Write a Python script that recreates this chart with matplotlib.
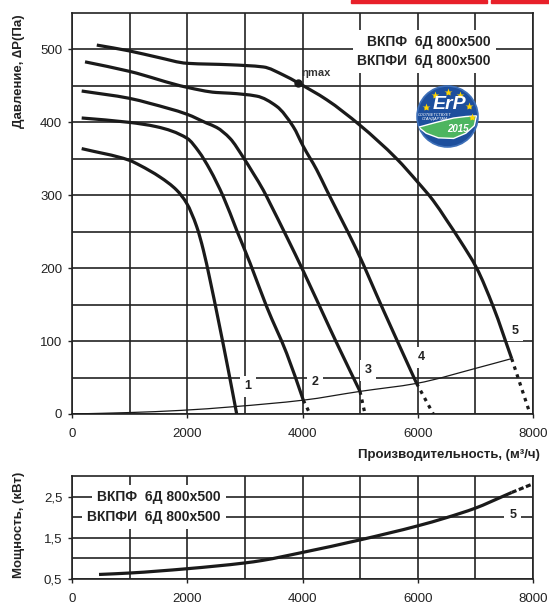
import numpy as np
import matplotlib.pyplot as plt
from matplotlib.patches import Circle, Polygon, Rectangle, PathPatch
from matplotlib.path import Path

plt.rcParams['font.family'] = ['Liberation Sans', 'DejaVu Sans']

# pressure curves (m3/h, Pa) - solid part + dotted tail
q1 = [168, 995, 1180, 1527, 1817, 1990, 2164, 2279, 2395, 2539, 2713, 2858]
p1 = [364, 348, 341, 325, 307, 289, 257, 225, 184, 129, 60, 0]

q2 = [168, 995, 1470, 2000, 2200, 2395, 2626, 2858, 3090, 3379, 3726, 4014]
p2 = [406, 400, 394, 378, 360, 335, 298, 252, 207, 147, 83, 19]
q2_tail = [4014, 4130]
p2_tail = [19, 0]

q3 = [168, 995, 1354, 2000, 2337, 2511, 2742, 2972, 3146, 3320, 3436, 3726, 4014, 4477, 4650, 4998]
p3 = [443, 433, 426, 411, 399, 393, 378, 352, 330, 307, 289, 243, 196, 117, 88, 31]
q3_tail = [4998, 5085]
p3_tail = [31, 0]

q4 = [226, 995, 2000, 2500, 2742, 3205, 3552, 3840, 4014, 4246, 4420, 4650, 4940, 5400, 5980]
p4 = [483, 470, 448, 441, 440, 436, 422, 394, 367, 335, 307, 271, 225, 143, 42]
q4_tail = [5980, 6270]
p4_tail = [42, 0]

q5 = [430, 995, 1500, 2000, 2742, 3320, 3667, 3927, 4420, 4998, 5635, 6000, 6266, 6500, 6733, 7023, 7311, 7630]
p5 = [506, 498, 489, 481, 479, 476, 465, 454, 431, 396, 350, 318, 293, 266, 238, 200, 147, 76]
q5_tail = [7630, 7950]
p5_tail = [76, 0]

eta_q, eta_p = 3927, 454

# system line
qs = [0, 1000, 1900, 2800, 4014, 4998, 5981, 7023, 7630]
ps = [0, 2, 5, 10, 19, 31, 42, 63, 76]

# power curve (kW)
qn = [469, 1000, 2000, 3000, 3300, 4000, 5000, 6000, 6500, 7000, 7500, 7630]
nn = [0.61, 0.645, 0.75, 0.89, 0.95, 1.145, 1.45, 1.79, 1.99, 2.22, 2.52, 2.6]
qn_tail = [7630, 8000]
nn_tail = [2.6, 2.81]

curve_labels = ['1', '2', '3', '4', '5']
label_q = [3049, 4217, 5142, 6057, 7688]
label_p = [38, 44, 60, 78, 114]

model = 'ВКПФ  6Д 800x500\nВКПФИ  6Д 800x500'


def smooth_path(x, y):
    # monotone cubic (fritsch-carlson) through the read points, drawn as bezier segments
    x = np.asarray(x, float)
    y = np.asarray(y, float)
    h = np.diff(x)
    d = np.diff(y) / h
    m = np.zeros_like(x)
    m[0], m[-1] = d[0], d[-1]
    for i in range(1, len(x) - 1):
        if d[i - 1] * d[i] <= 0:
            m[i] = 0
        else:
            w1 = 2 * h[i] + h[i - 1]
            w2 = h[i] + 2 * h[i - 1]
            m[i] = (w1 + w2) / (w1 / d[i - 1] + w2 / d[i])
    verts = [(x[0], y[0])]
    codes = [Path.MOVETO]
    for i in range(len(x) - 1):
        verts += [(x[i] + h[i] / 3, y[i] + m[i] * h[i] / 3),
                  (x[i + 1] - h[i] / 3, y[i + 1] - m[i + 1] * h[i] / 3),
                  (x[i + 1], y[i + 1])]
        codes += [Path.CURVE4] * 3
    return Path(verts, codes)


def curve(a, x, y, **kw):
    a.add_patch(PathPatch(smooth_path(x, y), fill=False, **kw))


W, H = 549, 606
fig = plt.figure(figsize=(W / 100, H / 100), dpi=100)
ax = fig.add_axes([72 / W, (H - 414) / H, 461 / W, 401 / H])
ax2 = fig.add_axes([72 / W, (H - 579) / H, 461 / W, 103 / H])

lc = '#1a1a1a'
gc = '#222222'

for a in (ax, ax2):
    a.grid(True, which='both', color=gc, lw=1.2)
    a.set_axisbelow(True)
    a.tick_params(which='major', direction='out', length=3, width=1, labelsize=9.5,
                  labelcolor='#222222', color=gc)
    a.tick_params(which='minor', length=0)
    for s in a.spines.values():
        s.set_color(gc)
        s.set_linewidth(1.2)

# top chart
ax.set_xlim(0, 8000)
ax.set_ylim(0, 550)
ax.set_xticks(range(0, 8001, 2000))
ax.set_xticks(range(1000, 8000, 2000), minor=True)
ax.set_yticks(range(0, 501, 100))
ax.set_yticks(range(50, 550, 100), minor=True)
ax.tick_params(axis='x', pad=7)
ax.tick_params(axis='y', pad=4)

for q, p in [(q1, p1), (q2, p2), (q3, p3), (q4, p4), (q5, p5)]:
    curve(ax, q, p, ec=lc, lw=2.3, capstyle='butt', zorder=4)
for q, p in [(q2_tail, p2_tail), (q3_tail, p3_tail), (q4_tail, p4_tail), (q5_tail, p5_tail)]:
    ax.plot(q, p, color=lc, lw=2.3, linestyle=(0, (1.1, 1.5)), dash_capstyle='butt', zorder=4)
curve(ax, qs, ps, ec=lc, lw=0.9, zorder=4)
ax.plot([eta_q], [eta_p], 'o', color=lc, ms=5, zorder=5)
ax.text(eta_q + 60, eta_p + 9, 'ηmax', fontsize=8, fontweight='bold', color='#333333', zorder=6)

for t, q, p in zip(curve_labels, label_q, label_p):
    ax.text(q, p, t, fontsize=9, fontweight='bold', color='#222222', ha='center', va='center',
            zorder=3, bbox=dict(boxstyle='square,pad=0.35', fc='white', ec='none'))

ax.text(7271, 497, model, fontsize=10, fontweight='bold', color='#222222', ha='right', va='center',
        multialignment='right', linespacing=1.45, zorder=3,
        bbox=dict(boxstyle='square,pad=0.35', fc='white', ec='none'))

# bottom chart
ax2.set_xlim(0, 8000)
ax2.set_ylim(0.5, 3.0)
ax2.set_xticks(range(0, 8001, 2000))
ax2.set_xticks(range(1000, 8000, 2000), minor=True)
ax2.set_yticks([0.5, 1.5, 2.5])
ax2.set_yticks([1.0, 2.0], minor=True)
ax2.set_yticklabels(['0,5', '1,5', '2,5'])
ax2.tick_params(axis='x', pad=7)
ax2.tick_params(axis='y', pad=4)

curve(ax2, qn, nn, ec=lc, lw=2.3, zorder=4)
ax2.plot(qn_tail, nn_tail, color=lc, lw=2.3, linestyle=(0, (1.6, 0.8)), dash_capstyle='butt', zorder=4)
ax2.text(7650, 2.05, '5', fontsize=9, fontweight='bold', color='#222222', ha='center', va='center',
         zorder=3, bbox=dict(boxstyle='square,pad=0.4', fc='white', ec='none'))
for line, y in zip(model.split('\n'), [2.5, 2.0]):
    ax2.text(2581, y, line, fontsize=10, fontweight='bold', color='#222222', ha='right', va='center',
             zorder=3, bbox=dict(boxstyle='square,pad=0.35', fc='white', ec='none'))

# axis titles
fig.text(19 / W, 1 - 71 / H, 'Давление, ∆P(Па)', rotation=90, ha='center', va='center',
         fontsize=9.5, fontweight='bold', color='#222222')
fig.text(540 / W, 1 - 455 / H, 'Производительность, (м³/ч)', ha='right', va='center',
         fontsize=9.5, fontweight='bold', color='#222222')
fig.text(19 / W, 1 - 525 / H, 'Мощность, (кВт)', rotation=90, ha='center', va='center',
         fontsize=9.5, fontweight='bold', color='#222222')

# ErP badge
lg = fig.add_axes([415.5 / W, (H - 148.5) / H, 64 / W, 64 / H])
lg.set_xlim(-1.05, 1.05)
lg.set_ylim(-1.05, 1.05)
lg.axis('off')
disc = Circle((0, 0), 1, fc='#1d4f9d', ec='#3d6fb8', lw=1.2)
lg.add_patch(disc)
leaf = Polygon([(-0.95, -0.35), (-0.4, -0.2), (0.2, -0.05), (0.6, 0.0), (0.95, 0.02), (0.88, -0.3),
                (0.6, -0.55), (0.2, -0.72), (-0.3, -0.7), (-0.7, -0.55)],
               fc='#4db560', ec='white', lw=1)
lg.add_patch(leaf)
leaf.set_clip_path(disc)
for sx, sy in [(-0.70, 0.31), (-0.41, 0.69), (0, 0.82), (0.41, 0.69), (0.70, 0.33), (0.82, -0.02)]:
    lg.plot(sx, sy, marker='*', color='#ffd400', ms=6, mec='none')
lg.text(0.05, 0.38, 'ErP', color='white', fontsize=14, fontweight='bold', style='italic',
        ha='center', va='center')
lg.text(-0.42, -0.02, 'СООТВЕТСТВУЕТ\nСТАНДАРТАМ', color='white', fontsize=2.8, style='italic',
        ha='center', va='center', linespacing=1.1)
lg.text(0.35, -0.42, '2015', color='white', fontsize=7, fontweight='bold', style='italic',
        ha='center', va='center')

# red page strip at the top
fig.patches.append(Rectangle((351 / W, 1 - 2.5 / H), 136 / W, 2.5 / H, color='#e8202a',
                             transform=fig.transFigure, figure=fig))
fig.patches.append(Rectangle((491 / W, 1 - 2.5 / H), 58 / W, 2.5 / H, color='#e8202a',
                             transform=fig.transFigure, figure=fig))

fig.savefig('out.png', dpi=100)
